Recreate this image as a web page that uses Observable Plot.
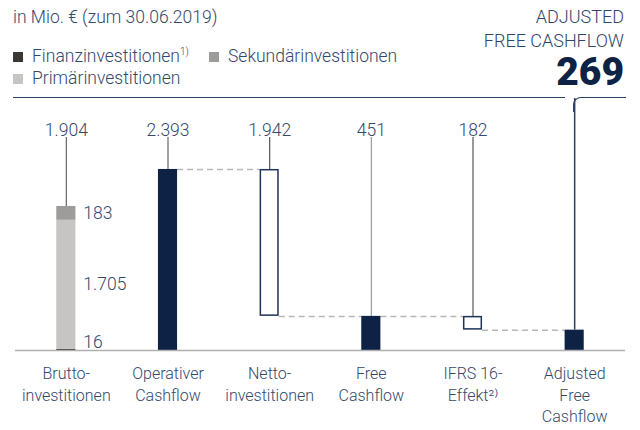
<!DOCTYPE html>
<html>
<head>
<meta charset="utf-8">
<script src="https://cdn.jsdelivr.net/npm/d3@7"></script>
<script src="https://cdn.jsdelivr.net/npm/@observablehq/plot@0.6"></script>
<style>
  html, body { margin: 0; padding: 0; background: #fff; }
  #wrap { position: relative; width: 640px; height: 430px; overflow: hidden; font-family: Roboto, sans-serif; font-weight: 300; color: #34486b; }
  #wrap svg { position: absolute; left: 0; top: 0; }
  .abs { position: absolute; line-height: 1; white-space: nowrap; }
  .sub { font-size: 17.5px; }
  .leg { font-size: 17.5px; }
  .sw { position: absolute; width: 10px; height: 10px; }
  .hdr { font-size: 18px; right: 16px; color: #2f4469; }
  .big { font-size: 39px; font-weight: 900; right: 16px; color: #0d2245; }
  sup { font-size: 10px; vertical-align: 7px; line-height: 0; }
</style>
</head>
<body>
<div id="wrap"></div>
<script>
// ---- data ----
const categories = ["Brutto-\ninvestitionen", "Operativer\nCashflow", "Netto-\ninvestitionen", "Free\nCashflow", "IFRS 16-\nEffekt²⁾", "Adjusted\nFree\nCashflow"];
const steps = [1904, 2393, -1942, 451, -182, 269];
const stepKinds = ["stack", "total", "delta", "total", "delta", "total"];
const stackNames = ["Finanzinvestitionen", "Primärinvestitionen", "Sekundärinvestitionen"];
const stackValues = [16, 1705, 183];
const subtitle = "in Mio. € (zum 30.06.2019)";
const headerLines = ["ADJUSTED", "FREE CASHFLOW"];

// ---- styles ----
const navy = "#0d2245";
const textColor = "#34486b";
const stackColors = {"Finanzinvestitionen": "#3b3833", "Primärinvestitionen": "#c6c5c3", "Sekundärinvestitionen": "#9d9c9a"};
const leaderColors = ["#666", "#666", "#555", "#9a9a9a", "#555", "#2d4163"];
const hw = 0.094;          // half bar width in band units
const yTop = 3212;         // top of plotting frame
const labelLevel = 2697;   // level of value labels

const fmt = d3.formatLocale({decimal: ",", thousands: ".", grouping: [3], currency: ["", "€"]}).format(",d");

// ---- waterfall table ----
let running = 0;
const bars = steps.map((v, i) => {
  const kind = stepKinds[i];
  let y1, y2;
  if (kind === "delta") { y1 = running + v; y2 = running; running += v; }
  else { y1 = 0; y2 = v; running = v; }
  return {i, kind, v, y1, y2, top: Math.max(y1, y2), end: running};
});
const connectors = [];
for (let i = 1; i < bars.length - 1; i++) {
  connectors.push({x1: i + hw, x2: i + 1 - hw, y: bars[i].end});
}
let acc = 0;
const stackRows = stackNames.map((name, k) => {
  const r = {name, value: stackValues[k], y1: acc, y2: acc + stackValues[k]};
  acc += stackValues[k];
  return r;
});
const labels = bars.filter(b => b.i < bars.length - 1);

const chart = Plot.plot({
  width: 640, height: 430,
  marginLeft: 15, marginRight: 15, marginTop: 107, marginBottom: 80,
  x: {type: "linear", domain: [-0.5, categories.length - 0.5], axis: null},
  y: {domain: [0, yTop], axis: null},
  color: {type: "identity"},
  style: {fontFamily: "Roboto, sans-serif", fontWeight: 300, background: "transparent", overflow: "visible"},
  marks: [
    Plot.ruleY(connectors, {x1: "x1", x2: "x2", y: "y", stroke: "#b8b8b8", strokeWidth: 1.5, strokeDasharray: "6,4"}),
    Plot.rect(stackRows, {x1: -hw, x2: hw, y1: "y1", y2: "y2", fill: d => stackColors[d.name]}),
    Plot.rect(bars.filter(b => b.kind === "total"), {x1: d => d.i - hw, x2: d => d.i + hw, y1: "y1", y2: "y2", fill: navy}),
    Plot.rect(bars.filter(b => b.kind === "delta"), {x1: d => d.i - hw, x2: d => d.i + hw, y1: "y1", y2: "y2", fill: "white", stroke: "#1d3358", strokeWidth: 1.5, inset: 0.75}),
    Plot.ruleY([0], {stroke: "#b0b0b0", strokeWidth: 1.5}),
    Plot.ruleX(bars, {x: "i", y1: "top", y2: d => d.i === bars.length - 1 ? yTop : labelLevel, insetBottom: 9,
      stroke: d => leaderColors[d.i], strokeWidth: d => d.i === bars.length - 1 ? 1.5 : 1.2}),
    Plot.text(labels, {x: "i", y: labelLevel, text: d => fmt(Math.abs(d.v)), lineAnchor: "bottom", dy: -10, fontSize: 17.5, fill: textColor}),
    Plot.text(stackRows.filter(d => d.value > 100), {x: 0, y: d => (d.y1 + d.y2) / 2, text: d => fmt(d.value), textAnchor: "start", dx: 17, fontSize: 17.5, fill: textColor}),
    Plot.text(stackRows.filter(d => d.value <= 100), {x: 0, y: 0, text: d => fmt(d.value), textAnchor: "start", lineAnchor: "bottom", dx: 17, dy: -3, fontSize: 17.5, fill: textColor}),
    Plot.text(categories, {x: (d, i) => i, y: 0, text: d => d, lineAnchor: "top", dy: 13, fontSize: 16, lineHeight: 1.36, fill: textColor})
  ]
});

const wrap = document.getElementById("wrap");
wrap.appendChild(chart);

const html = `
  <div class="abs sub" style="left:13px;top:9px">${subtitle}</div>
  <div class="sw" style="left:13px;top:52px;background:${stackColors["Finanzinvestitionen"]}"></div>
  <div class="abs leg" style="left:32px;top:48px">${stackNames[0]}<sup>1)</sup></div>
  <div class="sw" style="left:209px;top:52px;background:${stackColors["Sekundärinvestitionen"]}"></div>
  <div class="abs leg" style="left:228px;top:48px">${stackNames[2]}</div>
  <div class="sw" style="left:13px;top:74px;background:${stackColors["Primärinvestitionen"]}"></div>
  <div class="abs leg" style="left:32px;top:70px">${stackNames[1]}</div>
  <div class="abs hdr" style="top:8px">${headerLines[0]}</div>
  <div class="abs hdr" style="top:32px">${headerLines[1]}</div>
  <div class="abs big" style="top:53px">${fmt(steps[steps.length - 1])}</div>
  <div style="position:absolute;left:13px;top:97px;width:552px;border-top:1.5px solid #2d4163"></div>
  <div style="position:absolute;left:573px;top:97px;width:52px;height:14px;border-top:1.5px solid #2d4163;border-left:1.5px solid #2d4163;border-top-left-radius:8px"></div>
`;
wrap.insertAdjacentHTML("beforeend", html);
</script>
</body>
</html>
